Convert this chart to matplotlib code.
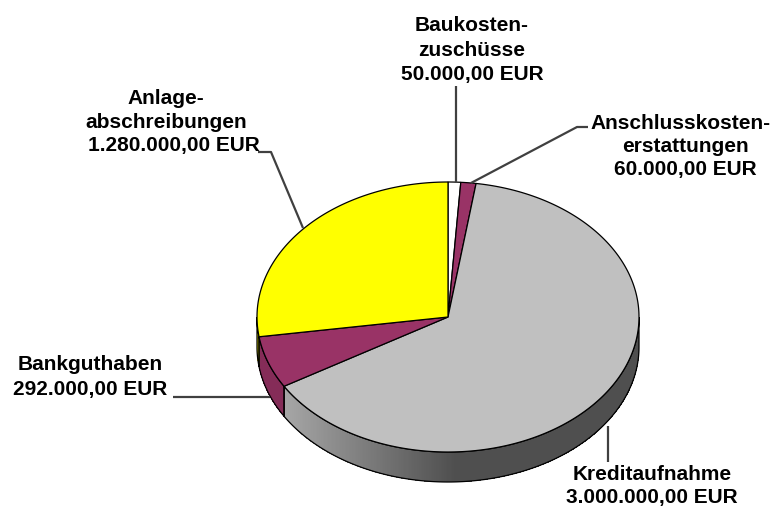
import numpy as np
import matplotlib
matplotlib.use("Agg")
import matplotlib.pyplot as plt
from matplotlib.patches import Polygon

# ---- data ----
categories = ["Baukosten-\nzuschüsse", "Anschlusskosten-\nerstattungen", "Kreditaufnahme",
              "Bankguthaben", "Anlage-\nabschreibungen"]
values = [50000.00, 60000.00, 3000000.00, 292000.00, 1280000.00]
value_labels = ["50.000,00 EUR", "60.000,00 EUR", "3.000.000,00 EUR",
                "292.000,00 EUR", "1.280.000,00 EUR"]
colors = ["#FFFFFF", "#993366", "#C0C0C0", "#993366", "#FFFF00"]

# ---- layout ----
W, H = 779, 509
fig = plt.figure(figsize=(W / 100, H / 100), dpi=100)
ax = fig.add_axes([0, 0, 1, 1])
ax.set_xlim(0, W)
ax.set_ylim(H, 0)
ax.axis("off")

cx, cy, rx, ry, depth = 448, 317, 191, 135, 30

def pt(theta_deg, dy=0.0):
    t = np.radians(theta_deg)
    return cx + rx * np.cos(t), cy - ry * np.sin(t) + dy

total = float(sum(values))
angles = []
a = 90.0
for v in values:
    span = 360.0 * v / total
    angles.append((a - span, a))  # clockwise from top
    a -= span

def shade_factor(x):
    v = 0.31 + 0.34 * np.clip((455 - x) / 170.0, 0, 1)
    return v / 0.75

# ---- side walls (front half: 180..360 degrees) ----
for (a0, a1), col in zip(angles, colors):
    lo, hi = a0 % 360, a1 % 360
    if hi <= lo:
        hi += 360
    segs = []
    for base in (0, 360, -360):
        s0, s1 = max(lo, 180 + base), min(hi, 360 + base)
        if s1 > s0:
            segs.append((s0, s1))
    rgb = np.array(matplotlib.colors.to_rgb(col))
    for s0, s1 in segs:
        n = max(2, int((s1 - s0) / 0.5) + 1)
        th = np.linspace(s0, s1, n)
        for i in range(n - 1):
            ta, tb = th[i], min(th[i + 1] + 0.3, s1)
            xa, ya = pt(ta); xb, yb = pt(tb)
            xm = (xa + xb) / 2
            c = np.clip(rgb * shade_factor(xm), 0, 1)
            poly = [(xa, ya), (xb, yb), (xb, yb + depth), (xa, ya + depth)]
            ax.add_patch(Polygon(poly, closed=True, facecolor=c, edgecolor="none",
                                 lw=0, antialiased=False, zorder=1))
        top = [pt(t) for t in th]
        bot = [pt(t, depth) for t in th[::-1]]
        ax.add_patch(Polygon(top + bot, closed=True, fill=False,
                             edgecolor="black", lw=0.9, zorder=2))

# ---- top face ----
for (a0, a1), col in zip(angles, colors):
    th = np.linspace(a0, a1, max(3, int(abs(a1 - a0) * 2)))
    poly = [(cx, cy)] + [pt(t) for t in th]
    ax.add_patch(Polygon(poly, closed=True, facecolor=col, edgecolor="black",
                         lw=0.9, zorder=3, joinstyle="miter"))

# ---- leader lines ----
lc = "#404040"
llw = 1.6
leaders = [
    [(456, 86), (456, 183)],
    [(588, 127), (577, 127), (471, 183)],
    [(608, 462), (608, 426)],
    [(173, 397), (270, 397)],
    [(258, 152), (271, 152), (303, 228)],
]
for line in leaders:
    xs, ys = zip(*line)
    ax.plot(xs, ys, color=lc, lw=llw, zorder=4, solid_capstyle="butt")

# ---- labels ----
fkw = dict(fontfamily="Liberation Sans", fontweight="bold", fontsize=15,
           color="black", ha="center", va="center", zorder=5)
label_lines = [
    [(472, 25, "Baukosten-"), (472, 50, "zuschüsse"), (472, 74, value_labels[0])],
    [(681, 123, "Anschlusskosten-"), (685, 147, "erstattungen"), (685, 170, value_labels[1])],
    [(652, 475, categories[2]), (652, 498, value_labels[2])],
    [(90, 365, categories[3]), (90, 389, value_labels[3])],
    [(166, 98, "Anlage-"), (166, 122, "abschreibungen"), (174, 145, value_labels[4])],
]
for block in label_lines:
    for x, y, s in block:
        ax.text(x, y, s, **fkw)

fig.savefig("out.png", dpi=100, facecolor="white")
